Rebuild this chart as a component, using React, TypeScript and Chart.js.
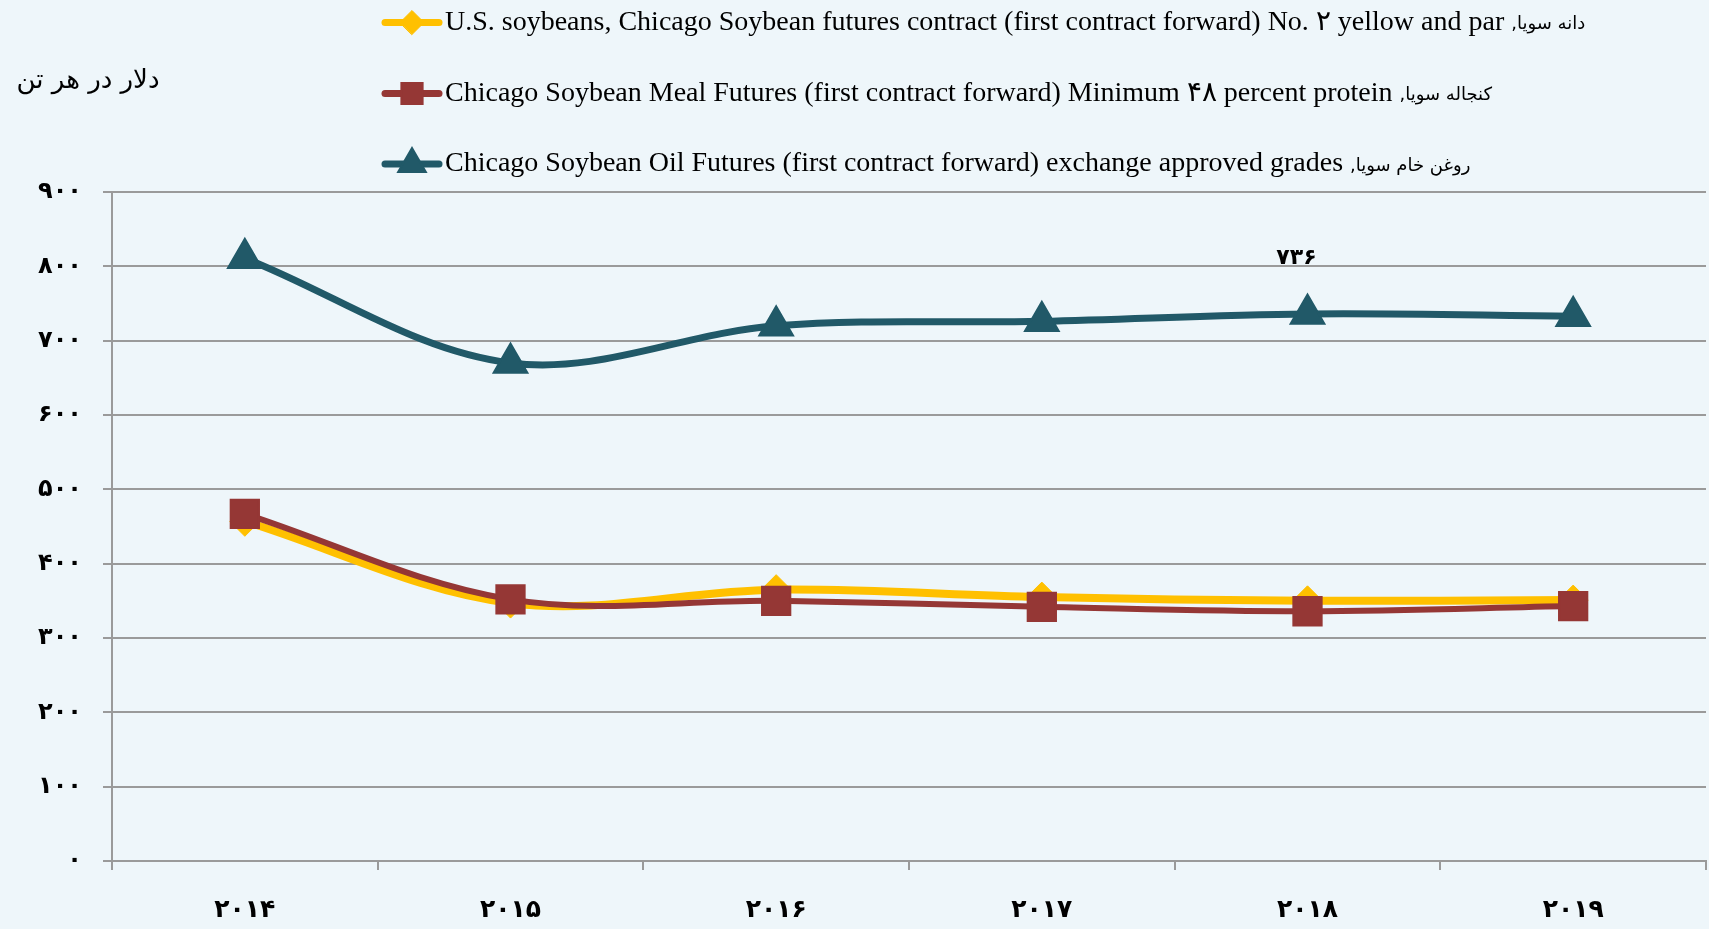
import React, { useEffect, useRef } from 'react';
import { Chart, registerables } from 'chart.js';
import { drawPoint } from 'chart.js/helpers';

Chart.register(...registerables);

const years = ['2014', '2015', '2016', '2017', '2018', '2019'];
const soybeans = [457, 347, 365, 355, 350, 351];
const meal = [467, 352, 350, 342, 336, 343];
const oil = [811, 670, 720, 726, 736, 733];

const seriesFa = ['دانه سویا', 'کنجاله سویا', 'روغن خام سویا'];
const seriesEn = [
  'U.S. soybeans, Chicago Soybean futures contract (first contract forward) No. ۲ yellow and par',
  'Chicago Soybean Meal Futures (first contract forward) Minimum ۴۸ percent protein',
  'Chicago Soybean Oil Futures (first contract forward) exchange approved grades',
];
const yAxisTitle = 'دلار در هر تن';
const yMin = 0;
const yMax = 900;
const yStep = 100;
const labelledSeries = 2;
const labelledIndex = 4;

const BG = '#EEF6FA';
const GRID = '#9a9a9a';
const COLORS = ['#FFC000', '#953735', '#215968'];

const toFa = (v: any) => String(v).replace(/\d/g, (d) => '۰۱۲۳۴۵۶۷۸۹'[+d]);

const bgPlugin = {
  id: 'bg',
  beforeDraw(chart: any) {
    const ctx = chart.ctx;
    ctx.save();
    ctx.fillStyle = BG;
    ctx.fillRect(0, 0, chart.width, chart.height);
    ctx.restore();
  },
};

const legendPlugin = {
  id: 'customLegend',
  afterDraw(chart: any) {
    const ctx = chart.ctx;
    const rowsY = [22.5, 93.5, 164];
    const legendRadius = [12, 15, 16];
    chart.data.datasets.forEach((ds: any, i: number) => {
      const y = rowsY[i];
      ctx.save();
      ctx.strokeStyle = ds.borderColor;
      ctx.lineWidth = 7;
      ctx.lineCap = 'round';
      ctx.beginPath();
      ctx.moveTo(385, y);
      ctx.lineTo(439, y);
      ctx.stroke();
      ctx.fillStyle = ds.backgroundColor;
      ctx.strokeStyle = ds.borderColor;
      ctx.lineWidth = ds.pointBorderWidth;
      drawPoint(ctx, { pointStyle: ds.pointStyle, rotation: 0, radius: legendRadius[i], borderWidth: ds.pointBorderWidth }, 412, y);
      ctx.restore();

      ctx.save();
      ctx.fillStyle = '#000';
      ctx.font = '28px "Liberation Serif"';
      ctx.textBaseline = 'middle';
      ctx.textAlign = 'left';
      const w = ctx.measureText(seriesEn[i]).width;
      ctx.fillText(seriesEn[i], 445, y);
      ctx.restore();

      ctx.save();
      ctx.fillStyle = '#000';
      ctx.font = '18px "DejaVu Sans"';
      ctx.textBaseline = 'middle';
      ctx.direction = 'rtl';
      ctx.textAlign = 'left';
      ctx.fillText(seriesFa[i] + ',', 445 + w + 7, y + 2);
      ctx.restore();
    });

    ctx.save();
    ctx.fillStyle = '#000';
    ctx.font = '26px "DejaVu Sans"';
    ctx.textBaseline = 'middle';
    ctx.direction = 'rtl';
    ctx.textAlign = 'center';
    ctx.fillText(yAxisTitle, 88, 81);
    ctx.restore();
  },
};

const labelPlugin = {
  id: 'pointLabel',
  afterDatasetsDraw(chart: any) {
    const meta = chart.getDatasetMeta(labelledSeries);
    const pt = meta.data[labelledIndex];
    if (!pt) return;
    const ctx = chart.ctx;
    ctx.save();
    ctx.fillStyle = '#000';
    ctx.font = 'bold 22px "DejaVu Sans"';
    ctx.textAlign = 'center';
    ctx.textBaseline = 'middle';
    ctx.fillText(toFa(oil[labelledIndex]), pt.x - 11, pt.y - 56);
    ctx.restore();
  },
};

export default function App() {
  const ref = useRef<HTMLCanvasElement>(null);
  useEffect(() => {
    document.body.style.margin = '0';
    document.body.style.background = BG;
    const canvas = ref.current!;
    const chart = new Chart(canvas, {
      type: 'line',
      data: {
        labels: years.map(toFa),
        datasets: [
          {
            label: seriesFa[0] + ', ' + seriesEn[0],
            data: soybeans,
            borderColor: COLORS[0],
            backgroundColor: COLORS[0],
            borderWidth: 8,
            tension: 0.35,
            pointStyle: 'rectRot',
            pointRadius: 15,
            pointBorderWidth: 1,
            order: 3,
          },
          {
            label: seriesFa[1] + ', ' + seriesEn[1],
            data: meal,
            borderColor: COLORS[1],
            backgroundColor: COLORS[1],
            borderWidth: 6,
            tension: 0.35,
            pointStyle: 'rect',
            pointRadius: 20,
            pointBorderWidth: 2,
            order: 2,
          },
          {
            label: seriesFa[2] + ', ' + seriesEn[2],
            data: oil,
            borderColor: COLORS[2],
            backgroundColor: COLORS[2],
            borderWidth: 7,
            tension: 0.35,
            pointStyle: 'triangle',
            pointRadius: 19.5,
            pointBorderWidth: 2,
            order: 1,
          },
        ],
      } as any,
      options: {
        responsive: false,
        animation: false,
        layout: { autoPadding: false, padding: { top: 192, right: 3, left: 0, bottom: 0 } },
        plugins: { legend: { display: false }, tooltip: { enabled: false } },
        scales: {
          x: {
            offset: true,
            grid: { offset: true, drawOnChartArea: false, drawTicks: true, tickLength: 9, color: GRID, lineWidth: 2 },
            border: { color: GRID, width: 2 },
            ticks: { font: { family: 'DejaVu Sans', size: 25, weight: 'bold' }, color: '#000', padding: 25, maxRotation: 0 },
            afterFit: (s: any) => { s.height = 68; },
          },
          y: {
            min: yMin,
            max: yMax,
            ticks: {
              stepSize: yStep,
              callback: (v: any) => toFa(v),
              font: { family: 'DejaVu Sans', size: 24, weight: 'bold' },
              color: '#000',
              padding: 21,
            },
            grid: { color: GRID, lineWidth: 2, tickLength: 9 },
            border: { color: GRID, width: 2 },
            afterFit: (s: any) => { s.width = 112; },
          },
        },
      } as any,
      plugins: [bgPlugin, legendPlugin, labelPlugin],
    });
    return () => chart.destroy();
  }, []);
  return <canvas ref={ref} width={1709} height={929} style={{ display: 'block' }} />;
}
